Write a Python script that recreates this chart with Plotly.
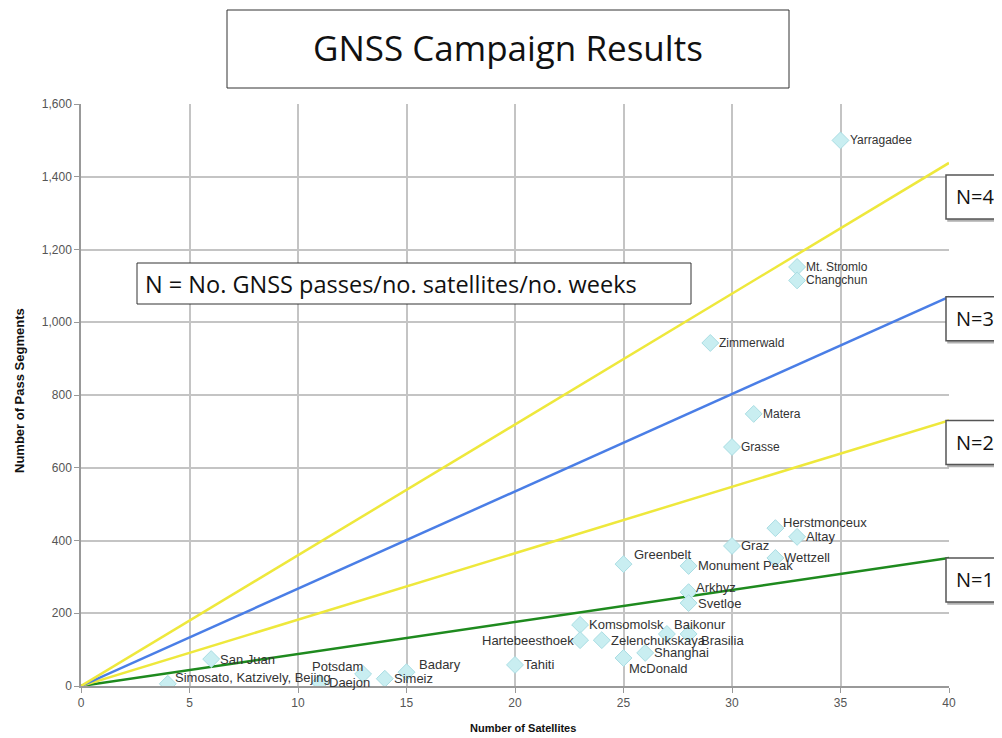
import plotly.graph_objects as go

# ---- data ----
stations = ["Yarragadee", "Mt. Stromlo", "Changchun", "Zimmerwald", "Matera", "Grasse",
            "Herstmonceux", "Altay", "Graz", "Wettzell", "Greenbelt", "Monument Peak",
            "Arkhyz", "Svetloe", "Komsomolsk", "Hartebeesthoek", "Zelenchukskaya",
            "Baikonur", "Brasilia", "Shanghai", "McDonald", "Tahiti", "San Juan",
            "Simosato, Katzively, Bejing", "Potsdam", "Daejon", "Simeiz", "Badary"]
satellites = [35, 33, 33, 29, 31, 30, 32, 33, 30, 32, 25, 28, 28, 28, 23, 23, 24,
              27, 28, 26, 25, 20, 6, 4, 13, 11, 14, 15]
segments = [1500, 1152, 1115, 943, 748, 657, 434, 410, 385, 352, 335, 330, 258, 228,
            168, 126, 126, 143, 143, 91, 77, 58, 74, 6, 33, 9, 20, 38]

n_labels = ["N=1", "N=2", "N=3", "N=4"]
line_x = [0, 40]
line_end = [352, 730, 1070, 1438]
line_colors = ["#1e8a1e", "#eee83c", "#4a7ee6", "#eee83c"]

x_ticks = [0, 5, 10, 15, 20, 25, 30, 35, 40]
y_ticks = [0, 200, 400, 600, 800, 1000, 1200, 1400, 1600]

# ---- styling helpers ----
# plot area in screen pixels (page has an 8px body margin)
PX0, PX1, PY0, PY1 = 81, 949, 104, 686
Y_PER_PX = (y_ticks[-1] - y_ticks[0]) / (PY1 - PY0)


def px(xs):
    return (xs - PX0) / (PX1 - PX0)


def py(ys):
    return (PY1 - ys) / (PY1 - PY0)


label_pos = {
    "Herstmonceux": ("left", 6, 6), "Greenbelt": ("left", 8, 10), "Arkhyz": ("left", 5, 5),
    "Hartebeesthoek": ("right", -4, 0), "Baikonur": ("left", 5, 9), "Brasilia": ("left", 10, -7),
    "McDonald": ("left", 3, -11), "Simosato, Katzively, Bejing": ("left", 5, 6),
    "Potsdam": ("right", 2, 8), "Badary": ("left", 10, 8),
}
n_gap_px = {"N=1": 0, "N=2": 0, "N=3": 0, "N=4": 12}
BOX_H_PX = 44

fig = go.Figure()

for lab, end, col in zip(n_labels, line_end, line_colors):
    fig.add_trace(go.Scatter(x=line_x, y=[0, end], mode="lines",
                             line=dict(color=col, width=2.5), showlegend=False,
                             hoverinfo="skip"))

fig.add_trace(go.Scatter(x=satellites, y=segments, mode="markers", showlegend=False,
                         marker=dict(symbol="diamond", size=13, color="#c9eef1",
                                     line=dict(color="#a9dde3", width=1))))

for name, xv, yv in zip(stations, satellites, segments):
    anchor, dx, dy = label_pos.get(name, ("left", 7, 0))
    fig.add_annotation(x=xv, y=yv, text=name, showarrow=False, xanchor=anchor,
                       yanchor="middle", xshift=dx, yshift=dy,
                       font=dict(family="Liberation Sans, Arial",
                                 size=13 if yv < 500 else 12, color="#333333"))

# N labels on the right (boxes run off the page edge, as in the original)
for lab, end in zip(n_labels, line_end):
    top = end - n_gap_px[lab] * Y_PER_PX
    bot = top - BOX_H_PX * Y_PER_PX
    fig.add_shape(type="rect", xref="paper", yref="y", x0=px(948), x1=px(1030),
                  y0=bot - 2 * Y_PER_PX, y1=top - 2 * Y_PER_PX,
                  line=dict(color="#b0b0b0", width=1.5), fillcolor="#b0b0b0", layer="above")
    fig.add_shape(type="rect", xref="paper", yref="y", x0=px(946), x1=px(1030),
                  y0=bot, y1=top, line=dict(color="#555555", width=1.5),
                  fillcolor="white", layer="above")
    fig.add_annotation(x=px(954), xref="paper", y=(top + bot) / 2, yref="y", text=lab,
                       showarrow=False, xanchor="left", yanchor="middle",
                       font=dict(family="Open Sans, Noto Sans", size=20, color="#111111"))

# title box
fig.add_shape(type="rect", xref="paper", yref="paper",
              x0=px(227), x1=px(789), y0=py(88), y1=py(10),
              line=dict(color="#333333", width=1), fillcolor="white")
fig.add_annotation(x=px(508), xref="paper", y=py(48), yref="paper",
                   xanchor="center", yanchor="middle",
                   text="GNSS Campaign Results", showarrow=False,
                   font=dict(family="Open Sans, Noto Sans", size=35, color="#111111"))

# formula box
fig.add_shape(type="rect", xref="paper", yref="paper",
              x0=px(137), x1=px(691), y0=py(304), y1=py(263),
              line=dict(color="#333333", width=1), fillcolor="white")
fig.add_annotation(x=px(143), xref="paper", y=py(284), yref="paper",
                   xanchor="left", yanchor="middle",
                   text="N = No. GNSS passes/no. satellites/no. weeks",
                   showarrow=False,
                   font=dict(family="Open Sans, Noto Sans", size=23.5, color="#111111"))

# axis titles
fig.add_annotation(x=px(523), xref="paper", y=py(728), yref="paper",
                   xanchor="center", yanchor="middle", showarrow=False,
                   text="<b>Number of Satellites</b>",
                   font=dict(family="Liberation Sans, Arial", size=11, color="#111111"))
fig.add_annotation(x=px(19), xref="paper", y=py(391), yref="paper",
                   xanchor="center", yanchor="middle", showarrow=False, textangle=-90,
                   text="<b>Number of Pass Segments</b>",
                   font=dict(family="Liberation Sans, Arial", size=13, color="#111111"))

fig.update_layout(
    width=994, height=730,
    margin=dict(l=PX0 - 8, r=994 - (PX1 - 8), t=PY0 - 8, b=730 - (PY1 - 8)),
    paper_bgcolor="white", plot_bgcolor="white",
    font=dict(family="Liberation Sans, Arial", size=12, color="#555555"),
    xaxis=dict(range=[0, 40], tickvals=x_ticks, showgrid=True, gridcolor="#c4c4c4",
               gridwidth=1.5, showline=True, linecolor="#999999", linewidth=1.5,
               zeroline=False, ticks="outside", ticklen=5, tickcolor="#999999",
               automargin=False),
    yaxis=dict(range=[0, 1600], tickvals=y_ticks, tickformat=",", showgrid=True,
               gridcolor="#c4c4c4", gridwidth=1.5, showline=True, linecolor="#999999",
               linewidth=1.5, zeroline=False, ticks="outside", ticklen=5,
               tickcolor="#999999", automargin=False),
)

fig.write_html("out.html")
